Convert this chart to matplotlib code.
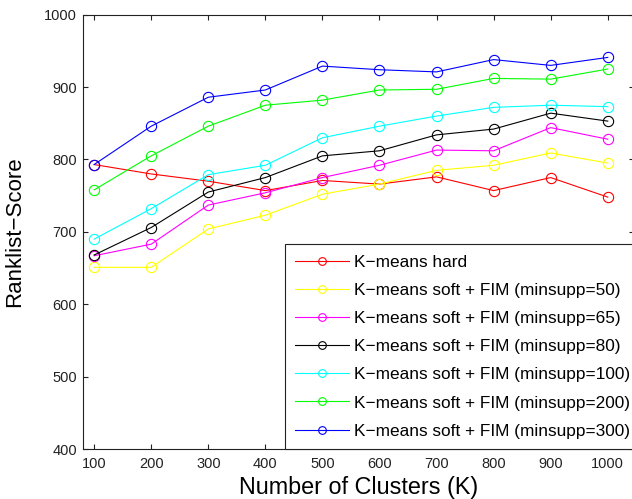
import matplotlib
matplotlib.use("Agg")
import matplotlib.pyplot as plt

plt.rcParams['font.family'] = ['Liberation Sans', 'DejaVu Sans']

# cluster counts on the x axis
clusters = [100, 200, 300, 400, 500, 600, 700, 800, 900, 1000]

# ranklist scores
kmeans_hard = [793, 780, 770, 757, 771, 766, 776, 757, 775, 748]
soft_fim_50 = [651, 651, 704, 723, 752, 766, 785, 792, 809, 795]
soft_fim_65 = [667, 683, 737, 754, 775, 792, 813, 812, 844, 828]
soft_fim_80 = [668, 706, 755, 775, 805, 812, 834, 842, 864, 853]
soft_fim_100 = [690, 732, 779, 792, 830, 846, 860, 872, 875, 873]
soft_fim_200 = [758, 805, 846, 875, 882, 896, 897, 912, 911, 925]
soft_fim_300 = [793, 846, 886, 896, 929, 924, 921, 938, 930, 941]

labels = [
    "K\u2212means hard",
    "K\u2212means soft + FIM (minsupp=50)",
    "K\u2212means soft + FIM (minsupp=65)",
    "K\u2212means soft + FIM (minsupp=80)",
    "K\u2212means soft + FIM (minsupp=100)",
    "K\u2212means soft + FIM (minsupp=200)",
    "K\u2212means soft + FIM (minsupp=300)",
]
series = [kmeans_hard, soft_fim_50, soft_fim_65, soft_fim_80,
          soft_fim_100, soft_fim_200, soft_fim_300]
colors = ["#ff0000", "#ffff00", "#ff00ff", "#000000", "#00ffff", "#00ff00", "#0000ff"]

fig = plt.figure(figsize=(6.32, 4.99), dpi=100)
ax = fig.add_axes([0.1309, 0.1002, 0.8723, 0.8703])

for values, color, label in zip(series, colors, labels):
    ax.plot(clusters, values, color=color, lw=0.8, marker='o', ms=7.4,
            mfc='none', mec=color, mew=0.8, label=label)

ax.set_xlim(80, 1046)
ax.set_ylim(400, 1000)
ax.set_xticks(clusters)
ax.set_yticks(range(400, 1001, 100))
ax.tick_params(direction='in', top=True, right=True, length=3.8, width=0.8,
               labelsize=10.5, colors='#222222')
ax.tick_params(axis='x', pad=6)
ax.tick_params(axis='y', pad=4)
for spine in ax.spines.values():
    spine.set_linewidth(0.8)
    spine.set_color('#222222')

ax.set_xlabel("Number of Clusters (K)", fontsize=16.8)
ax.set_ylabel("Ranklist\u2212Score", fontsize=16)
ax.xaxis.set_label_coords(0.5, -0.062)
ax.yaxis.set_label_coords(-0.104, 0.5)

leg = ax.legend(loc='lower left', bbox_to_anchor=(0.367, 0.0, 0.633, 0.4),
                mode='expand', borderaxespad=0, fontsize=12.4, handlelength=3.1,
                handletextpad=0.3, borderpad=0.6, labelspacing=0.76,
                markerscale=0.75, fancybox=False, framealpha=1)
leg.get_frame().set_edgecolor('#222222')
leg.get_frame().set_linewidth(0.8)

fig.savefig("out.png", dpi=100)
